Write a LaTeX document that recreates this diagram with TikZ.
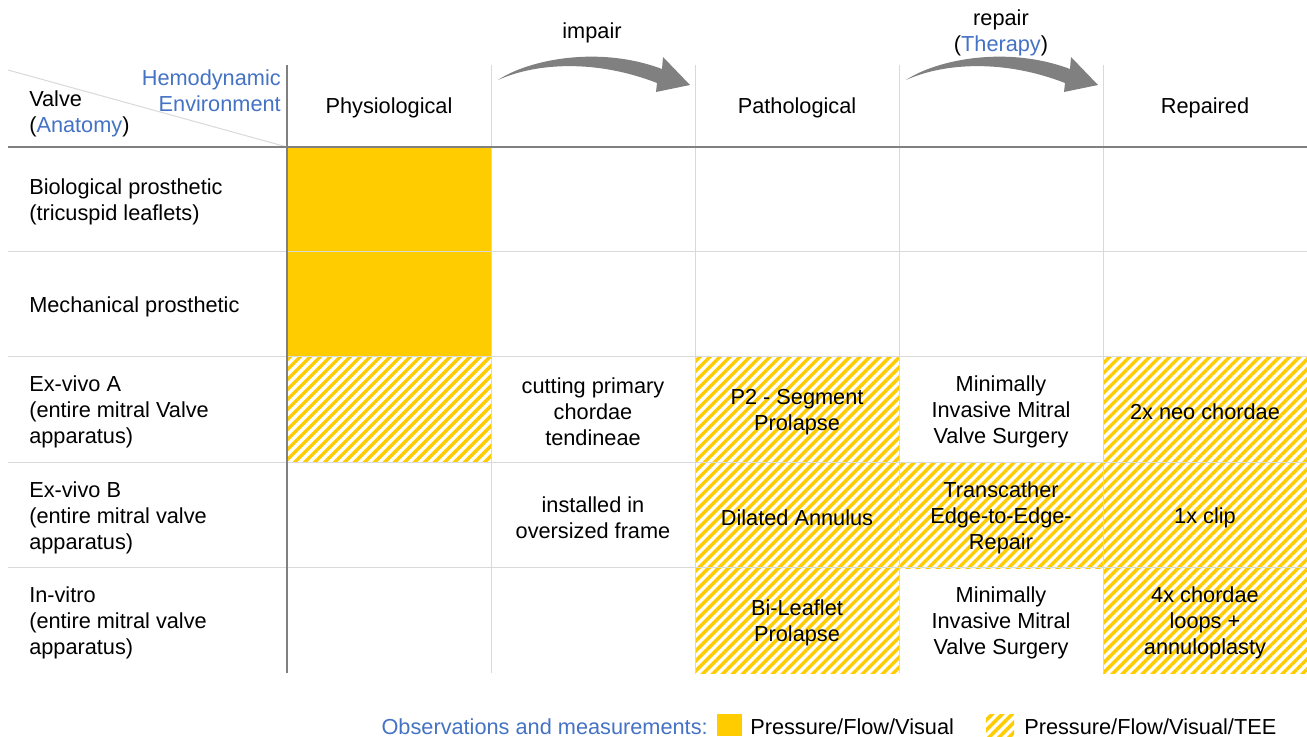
\documentclass[tikz,border=0pt]{standalone}
\usepackage{fontspec}
\setmainfont{Liberation Sans}
\usetikzlibrary{patterns.meta}
\definecolor{valveyellow}{HTML}{FFCC00}
\definecolor{headblue}{HTML}{4472C4}
\definecolor{gridgrey}{HTML}{D9D9D9}
\definecolor{rulegrey}{HTML}{808080}
\begin{document}
\begin{tikzpicture}
  [x=0.75pt,y=-0.75pt,every node/.style={font=\fontsize{16.3}{19.5}\selectfont,inner sep=0pt,yshift=-1.6pt}]
  \tikzstyle{cell} = [align=center]
  \tikzstyle{rowlabel} = [align=left,anchor=west]
  \tikzstyle{yellowcell} = [fill=valveyellow]
  \tikzstyle{hatchcell} = [pattern={Lines[angle=45,distance=5.3pt,line width=2.6pt]},pattern color=valveyellow]
  \tikzstyle{thin rule} = [draw=gridgrey,line width=0.75pt]
  \tikzstyle{thick rule} = [draw=rulegrey,line width=1.5pt]
  \tikzstyle{bend arrow} = [fill=rulegrey]
  \useasboundingbox (0,0) rectangle (1307,737);
  % filled cells
  \fill[yellowcell] (287,147) rectangle (491,357);
  \foreach \x/\y in {287/357,695/357,695/463,695/568,899/463,1103/357,1103/463,1103/568}
   \fill[hatchcell] (\x,\y) rectangle ++(204,105.5);
  % grid
  \foreach \y in {252,357,463,568} \draw[thin rule] (8,\y) -- (1307,\y);
  \foreach \x in {491,695,899,1103} \draw[thin rule] (\x,65) -- (\x,673);
  \draw[thin rule] (8,70) -- (287,147);
  \draw[thick rule] (8,147) -- (1307,147);
  \draw[thick rule] (287,65) -- (287,673);
  % arrows
  \foreach \ax in {498,906}
   \fill[bend arrow,shift={(\ax,80)}] (0,0) .. controls (30,-20) and (100,-35) .. (164,-11)
     -- (165,-23) -- (192,5) -- (158,12) -- (159,3) .. controls (100,-20) and (40,-18) .. (0,0) -- cycle;
  \node (impair) at (592,31) {impair};
  \node[cell] (repair) at (1001,30.5) {repair\\(\textcolor{headblue}{Therapy})};
  % header
  \node[anchor=east,align=right,text=headblue] (envhead) at (281,89) {Hemodynamic\\Environment};
  \node[rowlabel] (valvehead) at (29,111.5) {Valve\\(\textcolor{headblue}{Anatomy})};
  \node (physio) at (389,106) {Physiological};
  \node (patho) at (797,106) {Pathological};
  \node (repaired) at (1205,106) {Repaired};
  % row labels
  \node[rowlabel] (bio) at (29,199.5) {Biological prosthetic\\(tricuspid leaflets)};
  \node[rowlabel] (mech) at (29,304.5) {Mechanical prosthetic};
  \node[rowlabel] (exa) at (29,410) {Ex-vivo A\\(entire mitral Valve\\apparatus)};
  \node[rowlabel] (exb) at (29,515.5) {Ex-vivo B\\(entire mitral valve\\apparatus)};
  \node[rowlabel] (invitro) at (29,620.5) {In-vitro\\(entire mitral valve\\apparatus)};
  % cells
  \node[cell] (exacut) at (593,410) {cutting primary\\chordae\\tendineae};
  \node[cell] (exap2) at (797,410) {P2 - Segment\\Prolapse};
  \node[cell] (examis) at (1001,410) {Minimally\\Invasive Mitral\\Valve Surgery};
  \node[cell] (exaneo) at (1205,410) {2x neo chordae};
  \node[cell] (exbframe) at (593,515.5) {installed in\\oversized frame};
  \node[cell] (exbdil) at (797,515.5) {Dilated Annulus};
  \node[cell] (exbteer) at (1001,515.5) {Transcather\\Edge-to-Edge-\\Repair};
  \node[cell] (exbclip) at (1205,515.5) {1x clip};
  \node[cell] (invbi) at (797,620.5) {Bi-Leaflet\\Prolapse};
  \node[cell] (invmis) at (1001,620.5) {Minimally\\Invasive Mitral\\Valve Surgery};
  \node[cell] (invloops) at (1205,620.5) {4x chordae\\loops +\\annuloplasty};
  % legend
  \node[anchor=east,text=headblue] (legtitle) at (708,725) {Observations and measurements:};
  \fill[yellowcell] (717,714) rectangle (742,736);
  \node[anchor=west] (legsolid) at (750,725) {Pressure/Flow/Visual};
  \fill[hatchcell] (986,714) rectangle (1014,736);
  \node[anchor=west] (leghatch) at (1024,725) {Pressure/Flow/Visual/TEE};
\end{tikzpicture}
\end{document}
